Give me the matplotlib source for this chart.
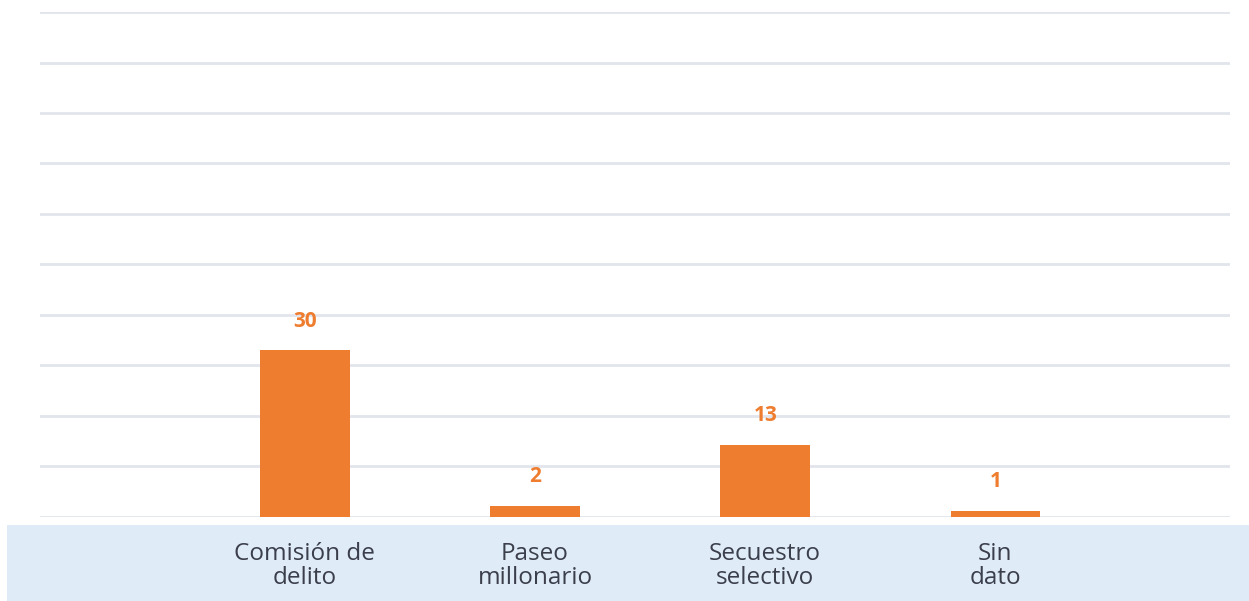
import matplotlib.pyplot as plt
import matplotlib.patches as mpatches
import numpy as np

categorias = ['Comisión de\ndelito', 'Paseo\nmillonario', 'Secuestro\nselectivo', 'Sin\ndato']
valores = [30, 2, 13, 1]

naranja = '#ef7d2f'
azul_banda = '#dfebf7'
gris_grid = '#e2e5ec'
texto = '#3b3e4b'

plt.rcParams['font.family'] = ['Open Sans', 'DejaVu Sans']

fig = plt.figure(figsize=(12.49, 6.01), dpi=100)
fig.patch.set_facecolor('white')

# banda azul de las etiquetas, por debajo de los ejes
fig.patches.append(mpatches.Rectangle((0.006, 0), 0.994, 0.127, transform=fig.transFigure,
                                      facecolor=azul_banda, edgecolor='none', zorder=-1))

ax = fig.add_axes([0.032, 0.140, 0.953, 0.840])
ax.set_facecolor('none')

x = np.arange(len(categorias))
ax.bar(x, valores, width=0.39, color=naranja, zorder=3)

ymax = 91
ax.set_ylim(0, ymax)
ax.set_xlim(-1.15, 4.02)
for y in np.linspace(0, ymax, 11):
    ax.axhline(y, color=gris_grid, lw=2, zorder=1)

for xi, v in zip(x, valores):
    ax.text(xi, v + 3.4, str(v), ha='center', va='bottom', color=naranja,
            fontsize=15, fontweight='bold')

for xi, cat in zip(x, categorias):
    ax.text(xi, -4.5, cat, ha='center', va='top', color=texto, fontsize=17.5,
            linespacing=1.03, clip_on=False, zorder=5)

ax.set_xticks([])
ax.set_yticks([])
for s in ax.spines.values():
    s.set_visible(False)

fig.savefig('out.png', dpi=100, facecolor='white')
